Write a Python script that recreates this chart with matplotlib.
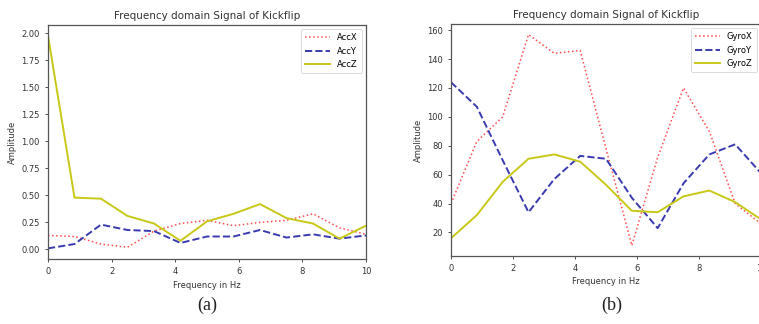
"""Two-panel frequency-domain plot of a kickflip (accelerometer and gyroscope)."""
import matplotlib
matplotlib.use("Agg")
import matplotlib.pyplot as plt
import numpy as np

W, H = 759, 324

freq = np.linspace(0, 10, 13)

acc_x = [0.13, 0.12, 0.05, 0.02, 0.17, 0.24, 0.27, 0.22, 0.25, 0.27, 0.33, 0.20, 0.14]
acc_y = [0.01, 0.05, 0.23, 0.18, 0.17, 0.06, 0.12, 0.12, 0.18, 0.11, 0.14, 0.10, 0.13]
acc_z = [1.98, 0.48, 0.47, 0.31, 0.24, 0.08, 0.26, 0.33, 0.42, 0.29, 0.24, 0.10, 0.22]

gyro_x = [40, 83, 100, 157, 144, 146, 78, 11, 72, 120, 90, 40, 26]
gyro_y = [124, 107, 70, 34, 57, 73, 71, 44, 23, 54, 74, 81, 61]
gyro_z = [16, 32, 55, 71, 74, 69, 53, 35, 34, 45, 49, 41, 29]

acc_labels = ["AccX", "AccY", "AccZ"]
gyro_labels = ["GyroX", "GyroY", "GyroZ"]
captions = ["(a)", "(b)"]
title = "Frequency domain Signal of Kickflip"

STYLES = [
    dict(color="#ff4d4d", linestyle=":", linewidth=1.1),
    dict(color="#3a3ab0", linestyle="--", linewidth=1.4),
    dict(color="#c8c818", linestyle="-", linewidth=1.4),
]


def px_axes(fig, left, top, right, bottom):
    return fig.add_axes([left / W, (H - bottom) / H, (right - left) / W, (bottom - top) / H])


def draw_panel(ax, series, labels, yticks):
    for y, lab, st in zip(series, labels, STYLES):
        ax.plot(freq, y, label=lab, **st)
    ax.set_xlim(0, 10)
    ax.set_xticks(range(0, 11, 2))
    ax.set_yticks(yticks)
    ax.margins(y=0.05)
    ax.set_title(title, fontsize=7.5, color="#333333", pad=4)
    ax.set_xlabel("Frequency in Hz", fontsize=6, color="#333333", labelpad=3)
    ax.set_ylabel("Amplitude", fontsize=6, color="#333333", labelpad=3)
    ax.tick_params(labelsize=6, colors="#333333", length=2.5, width=0.6)
    for sp in ax.spines.values():
        sp.set_color("#555555")
        sp.set_linewidth(0.9)
    leg = ax.legend(loc="upper right", fontsize=6, handlelength=3, framealpha=1,
                    borderpad=0.5, labelspacing=0.5)
    leg.get_frame().set_linewidth(0.5)


fig = plt.figure(figsize=(W / 100, H / 100), dpi=100)

ax1 = px_axes(fig, 48, 25, 366, 259)
draw_panel(ax1, [acc_x, acc_y, acc_z], acc_labels, np.arange(0, 2.01, 0.25))
ax1.yaxis.set_major_formatter(matplotlib.ticker.FormatStrFormatter("%.2f"))

ax2 = px_axes(fig, 451, 24, 761, 256)
draw_panel(ax2, [gyro_x, gyro_y, gyro_z], gyro_labels, range(20, 161, 20))

for x, cap in zip([207, 612], captions):
    fig.text(x / W, (H - 305) / H, cap, fontsize=13, family="Liberation Serif",
             ha="center", va="center", color="#222222")

fig.savefig("out.png", dpi=100)
